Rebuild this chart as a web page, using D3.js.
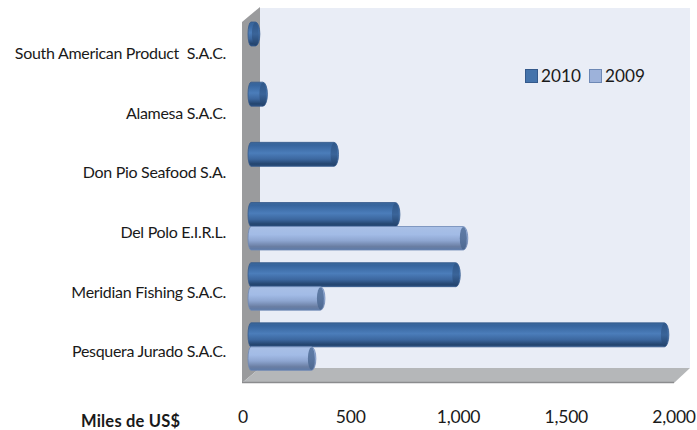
<!DOCTYPE html>
<html><head><meta charset="utf-8">
<script src="https://cdn.jsdelivr.net/npm/d3@7"></script>
<style>html,body{margin:0;background:#fff}svg{display:block}text{font-family:Lato,"Open Sans",sans-serif;fill:#1a1a1a}</style>
</head><body><div id="c"></div>
<script>
const categories = ["South American Product  S.A.C.","Alamesa S.A.C.","Don Pio Seafood S.A.","Del Polo E.I.R.L.","Meridian Fishing S.A.C.","Pesquera Jurado S.A.C."];
const seriesNames = ["2010","2009"];
const values2010 = [55,90,420,705,985,1953];
const values2009 = [null,null,null,1020,357,315];
const xTicks = [0,500,1000,1500,2000];
const axisTitle = "Miles de US$";

const W=697,H=430;
const svg=d3.select("#c").append("svg").attr("width",W).attr("height",H);
const defs=svg.append("defs");
const grad=(id,stops)=>{const g=defs.append("linearGradient").attr("id",id).attr("x1",0).attr("x2",0).attr("y1",0).attr("y2",1);
  stops.forEach(([o,c])=>g.append("stop").attr("offset",o).attr("stop-color",c));};
grad("g2010",[[0,"#3a6699"],[.12,"#37659e"],[.45,"#4b7dba"],[.7,"#3c679f"],[.9,"#24456f"],[1,"#2b4f7e"]]);
grad("g2009",[[0,"#a9c0e6"],[.35,"#a2bbe6"],[.6,"#8ea6d1"],[.85,"#6a7ea3"],[1,"#5d7aa8"]]);
grad("gEnd2010",[[0,"#2f5789"],[.5,"#3a6499"],[1,"#23426b"]]);
grad("gEnd2009",[[0,"#5f7ca6"],[.5,"#5a76a0"],[1,"#4d6890"]]);

// 3D box
const g3=svg.append("g");
g3.append("polygon").attr("points","260,8 690,8 690,368 260,368").attr("fill","#e9edf6");
g3.append("polygon").attr("points","242,22 260,7 260,368 242,383").attr("fill","#9a9b9d");
g3.append("polygon").attr("points","260,368 690,368 674,383 242,383").attr("fill","#b5b7b9");
g3.append("line").attr("x1",242).attr("x2",674).attr("y1",382.5).attr("y2",382.5).attr("stroke","#8b8c8e").attr("stroke-width",1.5);

const x=d3.scaleLinear().domain([0,2000]).range([248,679]);
const y=d3.scaleBand().domain(categories).range([0,361]);
const inner=d3.scaleBand().domain(seriesNames).range([22,70]);
const rows=categories.map((c,i)=>({c,v:[values2010[i],values2009[i]]}));

const barG=svg.append("g");
rows.forEach(r=>{
  seriesNames.forEach((s,k)=>{
    const v=r.v[k]; if(v==null)return;
    const x0=x(0),x1=x(v),y0=y(r.c)+inner(s),h=inner.bandwidth()-(k?0.5:0),erx=4.5;
    const bodyEnd=Math.max(x0+3,x1-erx);
    barG.append("path")
      .attr("d",`M${x0+3},${y0}L${bodyEnd},${y0}A${erx},${h/2} 0 0 1 ${bodyEnd},${y0+h}L${x0+3},${y0+h}A3,${h/2} 0 0 1 ${x0+3},${y0}Z`)
      .attr("fill",`url(#g${s})`).attr("stroke",k?"#6d88b5":"#34598b").attr("stroke-width",.8);
    barG.append("ellipse").attr("cx",bodyEnd).attr("cy",y0+h/2).attr("rx",erx-1).attr("ry",h/2-.5)
      .attr("fill",`url(#gEnd${s})`);
  });
});

// category labels
const labelY=[54,114,173,233,293,352];
svg.append("g").selectAll("text").data(categories).join("text")
  .attr("x",226).attr("y",(d,i)=>labelY[i]+5)
  .attr("text-anchor","end")
  .style("white-space","pre").style("font-size","16px").style("letter-spacing","-0.3px").text(d=>d);

// value axis
const axisX=d3.scaleLinear().domain([0,2000]).range([243,674]);
const fmt=d3.format(",");
svg.append("g").selectAll("text").data(xTicks).join("text")
  .attr("x",d=>axisX(d)).attr("y",423).attr("text-anchor","middle")
  .style("font-size","17.5px").style("letter-spacing","-0.2px").text(d=>fmt(d));
svg.append("text").attr("x",81).attr("y",427).style("font-size","16.5px").style("font-weight",700).style("letter-spacing","0.2px").text(axisTitle);

// legend
const legX=d3.scaleOrdinal().domain(seriesNames).range([525,589]);
const lg=svg.append("g");
seriesNames.forEach((s,k)=>{
  lg.append("rect").attr("x",legX(s)+.5).attr("y",69.5).attr("width",12).attr("height",13)
    .attr("fill",k?"#9db2da":"#4473ab").attr("stroke",k?"#6d88b5":"#34598b");
  lg.append("text").attr("x",legX(s)+16).attr("y",82).style("font-size","17.2px").text(s);
});
</script></body></html>
